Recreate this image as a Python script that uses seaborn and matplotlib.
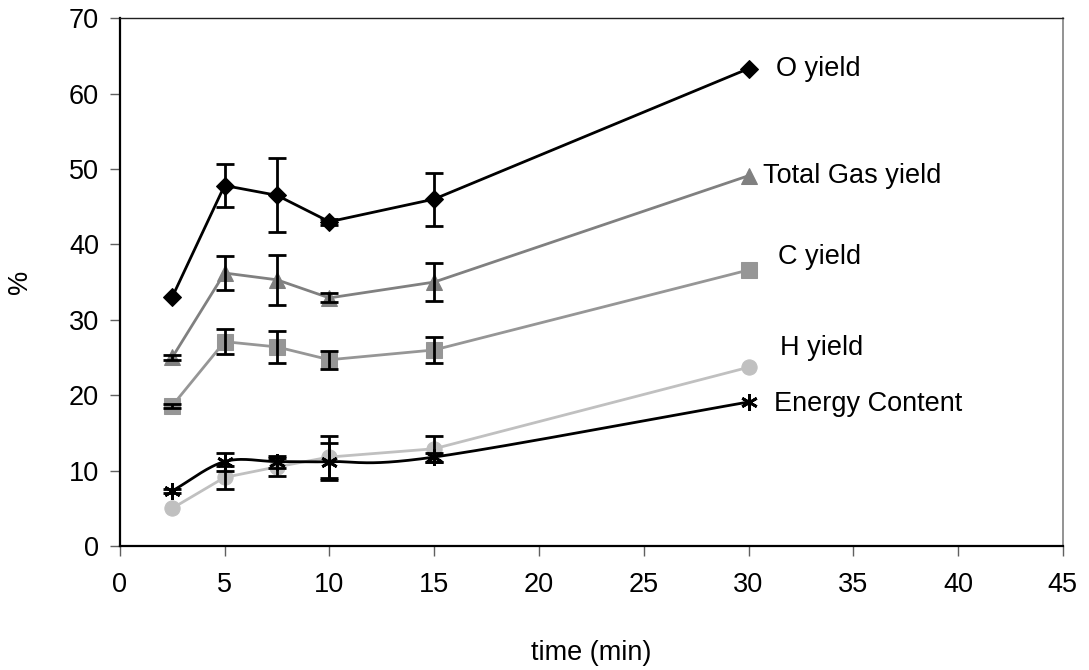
import numpy as np
import pandas as pd
import matplotlib
matplotlib.use("Agg")
import matplotlib.pyplot as plt
import seaborn as sns

time = [2.5, 5, 7.5, 10, 15, 30]
o_yield = [33.0, 47.8, 46.5, 43.0, 46.0, 63.3]
gas_yield = [25.0, 36.2, 35.3, 32.9, 35.0, 49.1]
c_yield = [18.6, 27.1, 26.4, 24.7, 26.0, 36.6]
h_yield = [5.0, 9.1, 10.5, 11.8, 12.9, 23.7]
energy = [7.3, 11.2, 11.2, 11.2, 11.8, 19.1]

o_err = [0.0, 2.9, 4.9, 0.4, 3.5, 0.0]
gas_err = [0.3, 2.2, 3.3, 0.6, 2.5, 0.0]
c_err = [0.3, 1.7, 2.1, 1.2, 1.7, 0.0]
h_err = [0.0, 1.5, 1.2, 2.8, 1.7, 0.0]
energy_err = [0.3, 1.2, 0.8, 2.5, 0.6, 0.0]

labels = ["O yield", "Total Gas yield", "C yield", "H yield", "Energy Content"]

sns.set_theme(style="white")
plt.rcParams['font.family'] = ['Liberation Sans', 'DejaVu Sans']

FS = 19.5

fig = plt.figure(figsize=(10.89, 6.70), dpi=100)
ax = fig.add_axes([0.110, 0.185, 0.866, 0.788])


def draw_err(vals, err):
    xs = [x for x, e in zip(time, err) if e > 0]
    ys = [v for v, e in zip(vals, err) if e > 0]
    es = [e for e in err if e > 0]
    ax.errorbar(xs, ys, yerr=es, fmt="none", ecolor="black",
                elinewidth=2, capsize=6.5, capthick=2, zorder=4)


series = [
    (o_yield, o_err, "#000000", "D", 9, labels[0]),
    (gas_yield, gas_err, "#808080", "^", 11, labels[1]),
    (c_yield, c_err, "#969696", "s", 11, labels[2]),
    (h_yield, h_err, "#c0c0c0", "o", 11, labels[3]),
]

for vals, err, col, mk, ms, lab in series:
    df = pd.DataFrame({"t": time, "v": vals})
    sns.lineplot(data=df, x="t", y="v", ax=ax, color=col, marker=mk,
                 markersize=ms, markeredgecolor=col, linewidth=2, zorder=3)
    draw_err(vals, err)

# Energy content: smoothed line through data points
t = np.array(time, dtype=float)
e = np.array(energy, dtype=float)
P = np.column_stack([t, e])
Pext = np.vstack([P[0] - (P[1] - P[0]), P, P[-1] + (P[-1] - P[-2])])
curve = []
for i in range(1, len(Pext) - 2):
    p0, p1, p2, p3 = Pext[i - 1], Pext[i], Pext[i + 1], Pext[i + 2]
    for s in np.linspace(0, 1, 30):
        c = 0.5 * ((2 * p1) + (-p0 + p2) * s + (2 * p0 - 5 * p1 + 4 * p2 - p3) * s ** 2
                   + (-p0 + 3 * p1 - 3 * p2 + p3) * s ** 3)
        curve.append(c)
curve = np.array(curve)
sns.lineplot(x=curve[:, 0], y=curve[:, 1], ax=ax, color="black", linewidth=2,
             sort=False, estimator=None, zorder=5)
ax.plot(time, energy, linestyle="none", marker=(6, 2, 0), markersize=12,
        markeredgewidth=2, color="black", zorder=6)
draw_err(energy, energy_err)

# end labels
label_pos = [(31.3, 63.3), (30.7, 49.1), (31.4, 38.3), (31.5, 26.2), (31.2, 18.9)]
for lab, (lx, ly) in zip(labels, label_pos):
    ax.text(lx, ly, lab, fontsize=FS, va="center", ha="left", color="black")

ax.set_xlim(0, 45)
ax.set_ylim(0, 70)
ax.set_xticks(range(0, 50, 5))
ax.set_yticks(range(0, 80, 10))
ax.tick_params(axis="both", labelsize=FS, direction="out", length=7, width=1,
               color="#606060", labelcolor="black", bottom=True, left=True, pad=8)
ax.tick_params(axis="x", pad=12)
ax.spines["top"].set_color("#202020")
ax.spines["top"].set_linewidth(1)
ax.spines["right"].set_color("#808080")
ax.spines["right"].set_linewidth(1.2)
for sp in ["left", "bottom"]:
    ax.spines[sp].set_color("black")
    ax.spines[sp].set_linewidth(1.6)

ax.set_xlabel("time (min)", fontsize=FS, color="black")
ax.set_ylabel("%", fontsize=FS, color="black")
ax.xaxis.set_label_coords(0.5, -0.178)
ax.yaxis.set_label_coords(-0.092, 0.5)

fig.savefig("out.png", dpi=100)
